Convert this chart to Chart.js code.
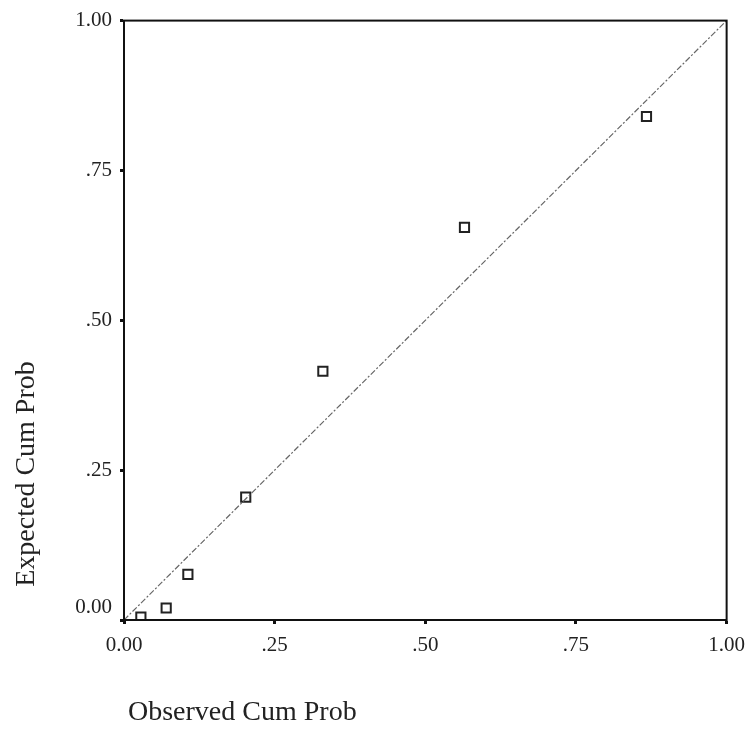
<!DOCTYPE html>
<html>
<head>
<meta charset="utf-8">
<script src="https://cdn.jsdelivr.net/npm/chart.js@4"></script>
<style>
  html, body { margin: 0; padding: 0; background: #fff; }
  #wrap { width: 754px; height: 736px; position: relative; }
</style>
</head>
<body>
<div id="wrap"><canvas id="ppPlot" width="754" height="736"></canvas></div>
<script>
// observed vs expected cumulative probabilities
const observedCum = [0.028, 0.07, 0.106, 0.202, 0.33, 0.565, 0.867];
const expectedCum = [0.005, 0.02, 0.076, 0.205, 0.415, 0.655, 0.84];
const tickValues = [0, 0.25, 0.5, 0.75, 1];
const xTickLabels = ["0.00", ".25", ".50", ".75", "1.00"];
const yTickLabels = ["0.00", ".25", ".50", ".75", "1.00"];
const refLine = [0, 1];

const serif = "'Liberation Serif', 'DejaVu Serif', serif";

const points = observedCum.map((x, i) => ({ x: x, y: expectedCum[i] }));

// box around the plot area + axis titles
const framePlugin = {
  id: "frame",
  afterDraw(chart) {
    const { ctx, chartArea } = chart;
    ctx.save();
    ctx.strokeStyle = "#111";
    ctx.lineWidth = 2;
    ctx.strokeRect(chartArea.left, chartArea.top,
      chartArea.right - chartArea.left, chartArea.bottom - chartArea.top);

    ctx.fillStyle = "#222";
    ctx.font = "28px " + serif;
    ctx.textBaseline = "middle";
    ctx.textAlign = "left";
    ctx.fillText("Observed Cum Prob", 128, 713);

    ctx.translate(27, 474);
    ctx.rotate(-Math.PI / 2);
    ctx.textAlign = "center";
    ctx.fillText("Expected Cum Prob", 0, 0);
    ctx.restore();
  }
};

new Chart(document.getElementById("ppPlot"), {
  type: "scatter",
  data: {
    datasets: [
      {
        label: "diagonal",
        type: "line",
        data: refLine.map((v) => ({ x: v, y: v })),
        borderColor: "#666",
        borderWidth: 1.2,
        borderDash: [6, 2, 2, 2],
        pointRadius: 0,
        fill: false,
      },
      {
        label: "points",
        data: points,
        pointStyle: "rect",
        pointRadius: 6.5,
        pointBackgroundColor: "#fff",
        pointBorderColor: "#222",
        pointBorderWidth: 2,
      },
    ],
  },
  options: {
    responsive: false,
    animation: false,
    layout: { padding: { top: 15, right: 27, left: 0, bottom: 0 } },
    plugins: {
      legend: { display: false },
      tooltip: { enabled: false },
    },
    scales: {
      x: {
        type: "linear",
        min: 0,
        max: 1,
        afterBuildTicks: (scale) => { scale.ticks = tickValues.map((v) => ({ value: v })); },
        afterFit: (scale) => { scale.height = 116; },
        ticks: {
          font: { family: serif, size: 21 },
          color: "#222",
          padding: 9,
          maxRotation: 0,
          callback: (v) => xTickLabels[tickValues.indexOf(v)],
        },
        grid: { drawOnChartArea: false, tickLength: 4, tickWidth: 3, color: "#111" },
        border: { display: true, color: "#111", width: 2 },
      },
      y: {
        type: "linear",
        min: 0,
        max: 1,
        afterBuildTicks: (scale) => { scale.ticks = tickValues.map((v) => ({ value: v })); },
        afterFit: (scale) => { scale.width = 124; },
        ticks: {
          font: { family: serif, size: 21 },
          color: "#222",
          padding: 8,
          callback: (v) => {
            const t = yTickLabels[tickValues.indexOf(v)];
            // lift the bottom label off the corner
            return v === 0 ? [t, ""] : t;
          },
        },
        grid: { drawOnChartArea: false, tickLength: 4, tickWidth: 3, color: "#111" },
        border: { display: true, color: "#111", width: 2 },
      },
    },
  },
  plugins: [framePlugin],
});
</script>
</body>
</html>
